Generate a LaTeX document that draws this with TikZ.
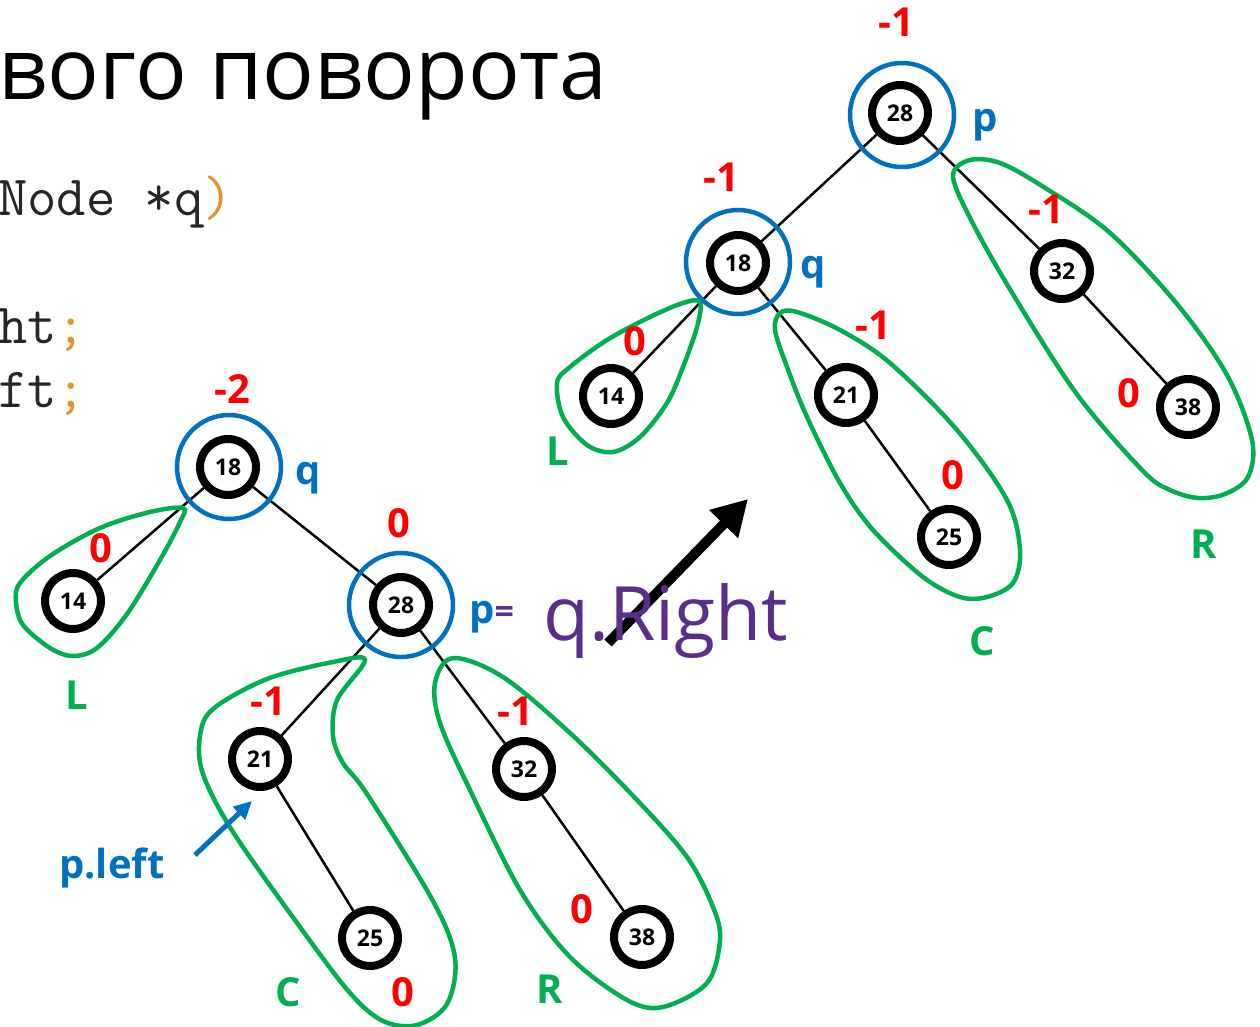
\documentclass[tikz,border=0pt]{standalone}
\usepackage{fontspec}
\setmainfont{Open Sans}
\usetikzlibrary{arrows.meta}
\definecolor{bred}{HTML}{FF0000}
\definecolor{bblue}{HTML}{0070C0}
\definecolor{bgreen}{HTML}{00B050}
\definecolor{bpurple}{HTML}{5B2D8F}
\definecolor{borange}{HTML}{E8912C}
\begin{document}
\begin{tikzpicture}[x=1pt,y=-1pt,
 tnode/.style={circle,draw=black,line width=8pt,fill=white,minimum size=56pt,inner sep=0pt,font=\fontsize{23}{25}\selectfont\bfseries},
 ring/.style={circle,draw=bblue,line width=4.5pt,minimum size=104pt,inner sep=0pt},
 edge/.style={line width=2.5pt,black},
 loopline/.style={draw=bgreen,line width=4.5pt},
 bal/.style={text=bred,font=\fontsize{40}{44}\selectfont\bfseries,anchor=base,inner sep=0pt},
 ptr/.style={text=bblue,font=\fontsize{40}{44}\selectfont\bfseries,anchor=base,inner sep=0pt},
 grp/.style={text=bgreen,font=\fontsize{40}{44}\selectfont\bfseries,anchor=base,inner sep=0pt},
 code/.style={font=\fontsize{57}{64}\selectfont\ttfamily,anchor=base west,inner sep=0pt,text=black!85}
]
\useasboundingbox (0,0) rectangle (1260,1027);

% title and code
\node[anchor=base west,inner sep=0pt,font=\fontsize{86}{100}\selectfont] (title) at (-2,100) {вого поворота};
\node[code] (c1) at (-2,215) {Node *q\textcolor{borange}{)}};
\node[code] (c2) at (-2,343) {ht\textcolor{borange}{;}};
\node[code] (c3) at (-2,407) {ft\textcolor{borange}{;}};

% ---------- left tree ----------
\node[tnode] (L18) at (228,467) {18};
\node[tnode] (L14) at (73,601) {14};
\node[tnode] (L28) at (401,605) {28};
\node[tnode] (L21) at (260,759) {21};
\node[tnode] (L25) at (370,938) {25};
\node[tnode] (L32) at (524,769) {32};
\node[tnode] (L38) at (642,937) {38};
\draw[edge] (L18) -- (L14);
\draw[edge] (L18) -- (L28);
\draw[edge] (L28) -- (L21);
\draw[edge] (L28) -- (L32);
\draw[edge] (L21) -- (L25);
\draw[edge] (L32) -- (L38);

\draw[loopline] plot[smooth cycle,tension=0.55] coordinates {(183,508) (150,512) (100,528) (50,556) (20,583) (16,602) (23,625) (50,648) (73,656) (97,648) (127,614) (160,560) (180,522)};
\draw[loopline] plot[smooth cycle,tension=0.55] coordinates {(365,660) (333,662) (267,679) (213,709) (200,736) (203,774) (233,832) (300,927) (350,993) (383,1021) (417,1025) (447,1004) (455,958) (433,901) (367,794) (343,763) (333,736) (337,700)};
\draw[loopline] plot[smooth cycle,tension=0.55] coordinates {(453,658) (503,677) (570,733) (637,800) (687,857) (713,907) (720,940) (707,983) (663,1007) (627,1000) (570,957) (520,890) (470,790) (440,723) (435,683)};

\node[ring] (ringL18) at (229,467) {};
\node[ring] (ringL28) at (401,605) {};

\node[bal] (bL18) at (232,403) {-2};
\node[bal] (bL28) at (399,537) {0};
\node[bal] (bL14) at (101,562) {0};
\node[bal] (bL21) at (268,715) {-1};
\node[bal] (bL32) at (515,725) {-1};
\node[bal] (bL38) at (582,923) {0};
\node[bal] (bL25) at (403,1006) {0};
\node[ptr] (qL) at (308,484) {q};
\node[anchor=base west,inner sep=0pt] (pL) at (469,623) {\fontsize{40}{44}\selectfont\bfseries\textcolor{bblue}{p}\textcolor{bpurple}{\fontsize{34}{38}\selectfont =}};
\node[ptr,anchor=base west] (pleft) at (59,878) {p.left};
\node[grp] (gL1) at (77,709) {L};
\node[grp] (gC1) at (288,1006) {C};
\node[grp] (gR1) at (550,1003) {R};

\coordinate (plA) at (195,855);
\coordinate (plB) at (252,801);
\draw[bblue,line width=5pt,-{Triangle[length=18pt,width=17pt]}] (plA) -- (plB);

% big arrow and handwritten text
\coordinate (bigA) at (608,643);
\coordinate (bigB) at (748,499);
\draw[line width=10pt,-{Triangle[length=35pt,width=38pt]}] (bigA) -- (bigB);
\node[anchor=base west,inner sep=0pt,text=bpurple,font=\fontsize{75}{80}\selectfont] (hand) at (543,640) {q.Right};

% ---------- right tree ----------
\node[tnode] (R28) at (900,113) {28};
\node[tnode] (R18) at (738,263) {18};
\node[tnode] (R14) at (611,396) {14};
\node[tnode] (R21) at (846,395) {21};
\node[tnode] (R25) at (949,537) {25};
\node[tnode] (R32) at (1062,271) {32};
\node[tnode] (R38) at (1188,407) {38};
\draw[edge] (R28) -- (R18);
\draw[edge] (R28) -- (R32);
\draw[edge] (R18) -- (R14);
\draw[edge] (R18) -- (R21);
\draw[edge] (R21) -- (R25);
\draw[edge] (R32) -- (R38);

\draw[loopline] plot[smooth cycle,tension=0.55] coordinates {(700,302) (697,327) (683,367) (667,403) (640,437) (613,452) (587,445) (563,417) (557,383) (570,367) (607,340) (650,317) (683,303)};
\draw[loopline] plot[smooth cycle,tension=0.55] coordinates {(780,313) (797,312) (840,330) (890,363) (957,430) (1007,500) (1020,550) (1013,583) (987,597) (960,597) (923,577) (873,530) (840,483) (807,417) (787,367) (775,330)};
\draw[loopline] plot[smooth cycle,tension=0.55] coordinates {(953,175) (970,160) (1000,163) (1042,186) (1109,232) (1177,304) (1227,375) (1252,440) (1248,477) (1225,494) (1198,498) (1170,490) (1143,471) (1076,393) (1008,286) (968,214)};

\node[ring] (ringR28) at (902,115) {};
\node[ring] (ringR18) at (738,262) {};

\node[bal] (bR28) at (896,37) {-1};
\node[bal] (bR18) at (721,192) {-1};
\node[bal] (bR32) at (1046,223) {-1};
\node[bal] (bR21) at (873,339) {-1};
\node[bal] (bR14) at (635,355) {0};
\node[bal] (bR25) at (953,489) {0};
\node[bal] (bR38) at (1129,407) {0};
\node[ptr] (pR) at (985,132) {p};
\node[ptr] (qR) at (813,278) {q};
\node[grp] (gL2) at (558,465) {L};
\node[grp] (gC2) at (982,655) {C};
\node[grp] (gR2) at (1204,558) {R};
\end{tikzpicture}
\end{document}
